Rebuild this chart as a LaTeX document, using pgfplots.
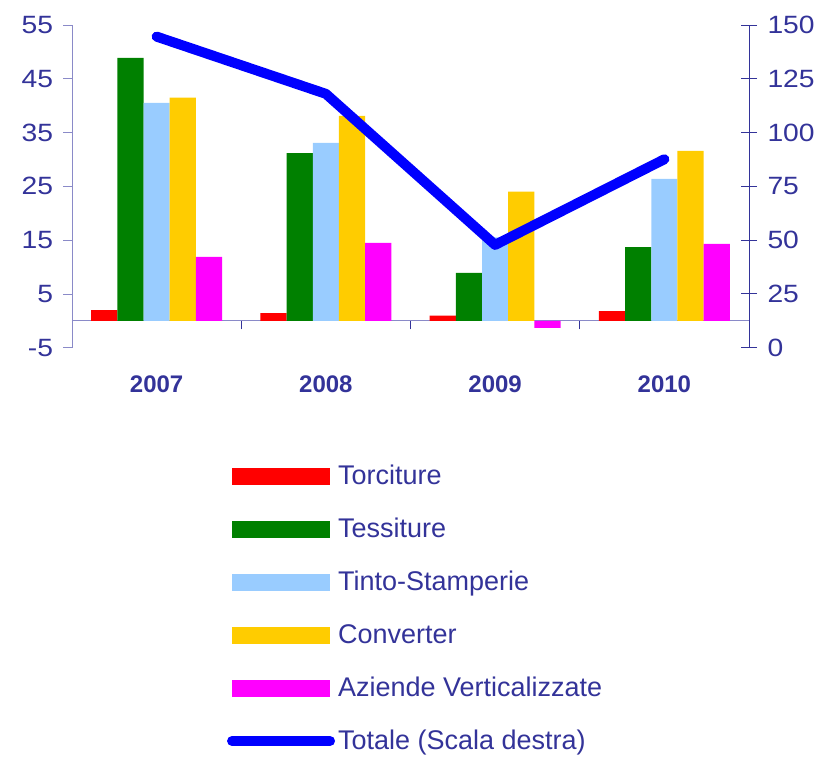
\documentclass[border=0pt]{standalone}
\usepackage{fontspec}
\setmainfont{Liberation Sans}
\newfontfamily\tickfont[FakeStretch=1.13]{Liberation Sans}
\usepackage{pgfplots}
\pgfplotsset{compat=1.18}
\definecolor{torc}{HTML}{FF0000}
\definecolor{tess}{HTML}{008000}
\definecolor{tinto}{HTML}{99CCFF}
\definecolor{conv}{HTML}{FFCC00}
\definecolor{azie}{HTML}{FF00FF}
\definecolor{totl}{HTML}{0000FF}
\definecolor{txt}{HTML}{333399}
\definecolor{lightax}{HTML}{8A8AC8}
\begin{document}
\begin{tikzpicture}
\useasboundingbox (-72bp,-409.3bp) rectangle (747bp,347.7bp);
\begin{axis}[
  scale only axis, width=677bp, height=322.7bp,
  xmin=-0.5, xmax=3.5, ymin=-5, ymax=55,
  ybar=0pt, bar width=26.2bp,
  axis y line*=left, axis x line*=middle,
  ytick={-5,5,15,25,35,45,55},
  xtick={0.5,1.5,2.5}, xticklabels={,,},
  extra x ticks={0,1,2,3},
  extra x tick labels={2007,2008,2009,2010},
  extra x tick style={major tick length=0pt,
     xticklabel style={anchor=base, yshift=-71.9bp, font=\bfseries\fontsize{24bp}{27bp}\selectfont}},
  tick align=outside, major tick length=8.5bp,
  x axis line style={lightax, line width=0.8bp},
  y axis line style={lightax, line width=0.8bp},
  tick style={lightax, line width=0.8bp},
  xtick style={txt, line width=0.8bp},
  /pgf/number format/assume math mode=true,
  tick label style={text=txt, font=\tickfont\fontsize{25bp}{29bp}\selectfont},
  yticklabel style={xshift=-7bp},
  clip=false,
]
\addplot[fill=torc, draw=none] coordinates {(0,2.0) (1,1.45) (2,0.95) (3,1.8)};
\addplot[fill=tess, draw=none] coordinates {(0,48.9) (1,31.2) (2,8.9) (3,13.7)};
\addplot[fill=tinto, draw=none] coordinates {(0,40.5) (1,33.1) (2,15.5) (3,26.4)};
\addplot[fill=conv, draw=none] coordinates {(0,41.5) (1,38.1) (2,24.0) (3,31.6)};
\addplot[fill=azie, draw=none] coordinates {(0,11.9) (1,14.5) (2,-1.3) (3,14.3)};
\end{axis}
\begin{axis}[
  scale only axis, width=677bp, height=322.7bp,
  xmin=-0.5, xmax=3.5, ymin=0, ymax=150,
  axis y line*=right, axis x line=none,
  ytick={0,25,50,75,100,125,150},
  tick align=center, major tick length=16bp,
  y axis line style={txt, line width=1bp},
  ytick style={txt, line width=1bp},
  /pgf/number format/assume math mode=true,
  tick label style={text=txt, font=\tickfont\fontsize{25bp}{29bp}\selectfont},
  yticklabel style={xshift=7bp},
  legend style={at={(axis description cs:0.229,-0.3604)}, anchor=north west,
     draw=none, fill=none, inner sep=0pt, outer sep=0pt,
     text=txt, font=\fontsize{27bp}{30bp}\selectfont,
     row sep=29bp, column sep=3bp,
     nodes={inner sep=0pt, outer sep=0pt, text height=20bp, text depth=4bp}},
  legend cell align=left,
]
\addlegendimage{legend image code/.code={\fill[torc] (0bp,-8.2bp) rectangle (97bp,8.2bp);}}
\addlegendentry{Torciture}
\addlegendimage{legend image code/.code={\fill[tess] (0bp,-8.2bp) rectangle (97bp,8.2bp);}}
\addlegendentry{Tessiture}
\addlegendimage{legend image code/.code={\fill[tinto] (0bp,-8.2bp) rectangle (97bp,8.2bp);}}
\addlegendentry{Tinto-Stamperie}
\addlegendimage{legend image code/.code={\fill[conv] (0bp,-8.2bp) rectangle (97bp,8.2bp);}}
\addlegendentry{Converter}
\addlegendimage{legend image code/.code={\fill[azie] (0bp,-8.2bp) rectangle (97bp,8.2bp);}}
\addlegendentry{Aziende Verticalizzate}
\addplot[color=totl, line width=10bp, line cap=round, line join=round,
  legend image code/.code={\draw[totl, line width=10bp, line cap=round] (0bp,0bp) -- (98bp,0bp);}]
  coordinates {(0,144.6) (1,118) (2,47.8) (3,87.6)};
\addlegendentry{Totale (Scala destra)}
\end{axis}
\end{tikzpicture}
\end{document}
